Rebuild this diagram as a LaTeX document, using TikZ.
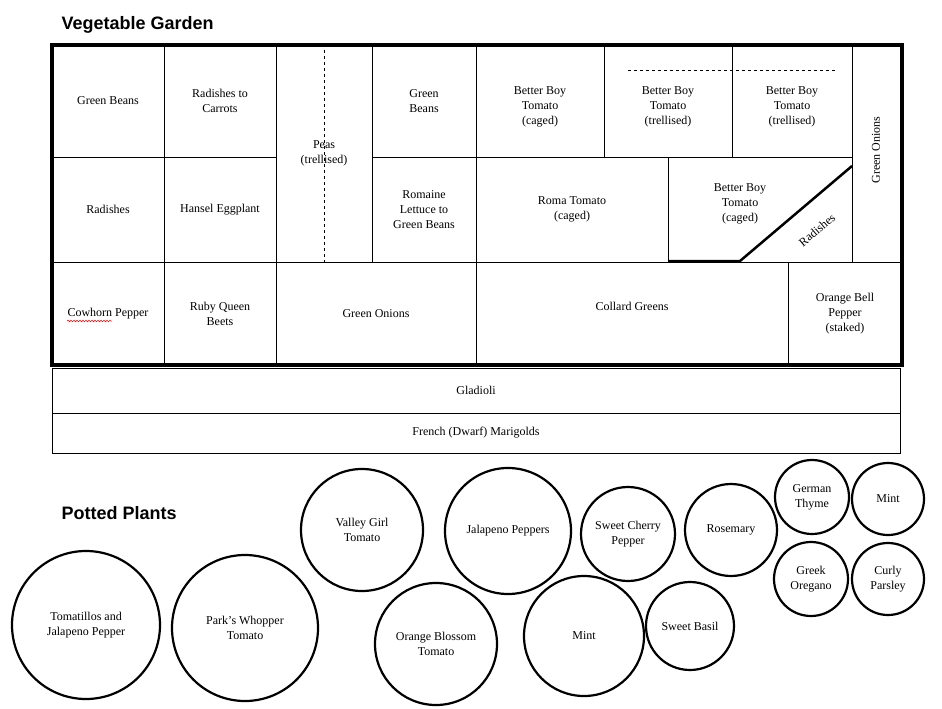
\documentclass[tikz,border=0pt]{standalone}
\usetikzlibrary{decorations.pathmorphing}
\usepackage{fontspec}
\setmainfont{Liberation Serif}
\newfontfamily\headfont{Liberation Sans}
\begin{document}
\begin{tikzpicture}[x=1pt,y=-1pt,
  lbl/.style={align=center,font=\fontsize{12}{15}\selectfont},
  pot/.style={draw,circle,line width=2.2pt,align=center,inner sep=0pt,font=\fontsize{12}{15}\selectfont},
  cell/.style={draw,line width=1pt},
  title/.style={font=\headfont\bfseries\fontsize{18}{20}\selectfont,anchor=west}]
\useasboundingbox (0,0) rectangle (942,709);
\node[title] (t1) at (58,25) {Vegetable Garden};
\node[title] (t2) at (58,513) {Potted Plants};
% row 1
\draw[cell] (52,45) rectangle (164,157) node[lbl,midway] (a1) {Green Beans};
\draw[cell] (164,45) rectangle (276,157) node[lbl,midway] (a2) {Radishes to\\Carrots};
\draw[cell] (276,45) rectangle (372,262) node[lbl,midway] (a3) {Peas\\(trellised)};
\draw[dashed] (324,50) -- (324,262);
\draw[cell] (372,45) rectangle (476,157) node[lbl,midway] (a4) {Green\\Beans};
\draw[cell] (476,45) rectangle (604,157) node[lbl,midway,yshift=-6] (a5) {Better Boy\\Tomato\\(caged)};
\draw[cell] (604,45) rectangle (732,157) node[lbl,midway,yshift=-6] (a6) {Better Boy\\Tomato\\(trellised)};
\draw[cell] (732,45) rectangle (852,157) node[lbl,midway,yshift=-6] (a7) {Better Boy\\Tomato\\(trellised)};
\draw[dashed] (628,70) -- (836,70);
\draw[cell] (852,45) rectangle (902,262);
\node[lbl,rotate=90] (a8) at (876,150) {Green Onions};
% row 2
\draw[cell] (52,157) rectangle (164,262) node[lbl,midway] (b1) {Radishes};
\draw[cell] (164,157) rectangle (276,262) node[lbl,midway] (b2) {Hansel Eggplant};
\draw[cell] (372,157) rectangle (476,262) node[lbl,midway] (b3) {Romaine\\Lettuce to\\Green Beans};
\draw[cell] (476,157) rectangle (668,262) node[lbl,midway] (b4) {Roma Tomato\\(caged)};
\draw[cell] (668,157) rectangle (852,262);
\node[lbl] (b5) at (740,204) {Better Boy\\Tomato\\(caged)};
\draw[line width=2.5pt] (668,261) -- (740,261) -- (852,166);
\node[lbl,rotate=40,inner sep=0pt] (b6) at (817,230) {Radishes};
% row 3
\draw[cell] (52,262) rectangle (164,365) node[lbl,midway] (c1) {Cowhorn Pepper};
\draw[red,decorate,decoration={snake,amplitude=0.8pt,segment length=3pt},line width=0.5pt] (67,321) -- (112,321);
\draw[cell] (164,262) rectangle (276,365) node[lbl,midway] (c2) {Ruby Queen\\Beets};
\draw[cell] (276,262) rectangle (476,365) node[lbl,midway] (c3) {Green Onions};
\draw[cell] (476,262) rectangle (788,365) node[lbl,midway,yshift=7] (c4) {Collard Greens};
\draw[cell] (788,262) rectangle (902,365) node[lbl,midway] (c5) {Orange Bell\\Pepper\\(staked)};
\draw[line width=4pt] (52,45) rectangle (902,365);
% strips
\draw[cell] (52,368) rectangle (900,413) node[lbl,midway] (d1) {Gladioli};
\draw[cell] (52,413) rectangle (900,453) node[lbl,midway] (d2) {French (Dwarf) Marigolds};
% pots
\node[pot,minimum size=148] (p1) at (86,625) {Tomatillos and\\Jalapeno Pepper};
\node[pot,minimum size=146] (p2) at (245,628) {Park's Whopper\\Tomato};
\node[pot,minimum size=122] (p3) at (362,530) {Valley Girl\\Tomato};
\node[pot,minimum size=126] (p4) at (508,531) {Jalapeno Peppers};
\node[pot,minimum size=122] (p5) at (436,644) {Orange Blossom\\Tomato};
\node[pot,minimum size=94] (p6) at (628,534) {Sweet Cherry\\Pepper};
\node[pot,minimum size=120] (p7) at (584,636) {Mint};
\node[pot,minimum size=92] (p8) at (731,530) {Rosemary};
\node[pot,minimum size=88] (p9) at (690,626) {Sweet Basil};
\node[pot,minimum size=74] (p10) at (812,497) {German\\Thyme};
\node[pot,minimum size=72] (p11) at (888,499) {Mint};
\node[pot,minimum size=74] (p12) at (811,579) {Greek\\Oregano};
\node[pot,minimum size=72] (p13) at (888,579) {Curly\\Parsley};
\end{tikzpicture}
\end{document}
